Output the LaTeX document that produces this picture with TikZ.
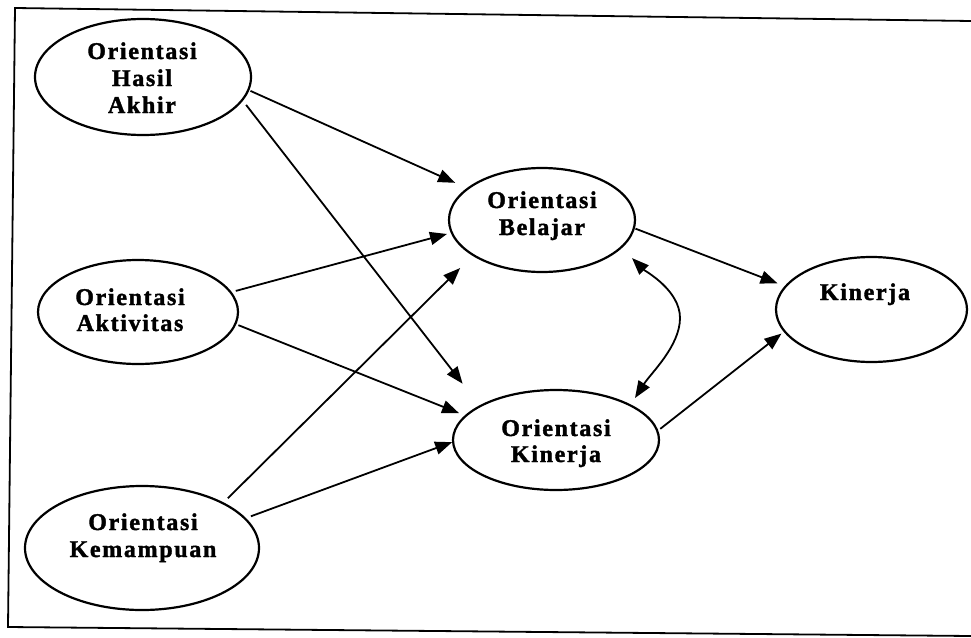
\documentclass[tikz,border=0pt]{standalone}
\usepackage{fontspec}
\usetikzlibrary{arrows.meta,shapes.geometric}
\newfontfamily\lblfont{Liberation Serif}[LetterSpace=7,BoldFeatures={FakeBold=1.6}]
\begin{document}
\begin{tikzpicture}[x=1pt,y=-1pt,
  oval/.style={draw, ellipse, line width=2.2pt, inner sep=0pt, outer sep=0pt},
  lbl/.style={font=\lblfont\bfseries\fontsize{24}{27}\selectfont, anchor=base, inner sep=0pt},
  link/.style={line width=1.8pt, -{Triangle[length=17pt,width=13pt]}},
  twoway/.style={line width=1.8pt, {Triangle[length=17pt,width=13pt]}-{Triangle[length=17pt,width=13pt]}},
  frameline/.style={line width=1.8pt}]
\useasboundingbox (0,0) rectangle (971,637);

% outer frame
\draw[frameline] (971,21) -- (15,8) -- (8,627) -- (971,636);

% constructs
\node[oval, minimum width=216pt, minimum height=116pt] (ha) at (143,77) {};
\node[oval, minimum width=200pt, minimum height=104pt] (ak) at (138,312) {};
\node[oval, minimum width=234pt, minimum height=124pt] (km) at (142,548) {};
\node[oval, minimum width=186pt, minimum height=104pt] (bl) at (542,220) {};
\node[oval, minimum width=206pt, minimum height=100pt] (ok) at (556,440) {};
\node[oval, minimum width=191pt, minimum height=105pt] (kn) at (871.5,309.5) {};

% labels
\node[lbl] (ha1) at (142,59) {Orientasi};
\node[lbl] (ha2) at (142,86) {Hasil};
\node[lbl] (ha3) at (142,113) {Akhir};
\node[lbl] (ak1) at (130,305) {Orientasi};
\node[lbl] (ak2) at (130,331) {Aktivitas};
\node[lbl] (km1) at (143,530) {Orientasi};
\node[lbl] (km2) at (143,557) {Kemampuan};
\node[lbl] (bl1) at (542,208) {Orientasi};
\node[lbl] (bl2) at (542,235) {Belajar};
\node[lbl] (ok1) at (556,436) {Orientasi};
\node[lbl] (ok2) at (556,462) {Kinerja};
\node[lbl] (kn1) at (865,300) {Kinerja};

% paths
\draw[link, shorten <=2.4pt, shorten >=14pt]  (ha.-7.6)  -- (bl.157.1);
\draw[link, shorten <=6.3pt, shorten >=28.5pt] (ha.-13.1) -- (ok.156.4);
\draw[link, shorten <=5.4pt, shorten >=5pt]    (ak.12.6)  -- (bl.-172);
\draw[link, shorten <=3.3pt, shorten >=7.3pt]  (ak.-7.5)  -- (ok.165.7);
\draw[link, shorten <=7pt,   shorten >=18.5pt] (km.29.9)  -- (bl.-153);
\draw[link, shorten <=6.4pt, shorten >=1pt]    (km.16.8)  -- (ok.181);
\draw[link, shorten <=1.7pt, shorten >=8.7pt]  (bl.-5.9)  -- (kn.165.5);
\draw[link, shorten <=3.7pt, shorten >=3.9pt]  (ok.5.5)   -- (kn.-166.4);
\coordinate (bend) at (680,318);
\draw[twoway, shorten <=15.3pt, shorten >=8.7pt]
  (bl.-19) .. controls (645,271) and (680,290) .. (bend)
  .. controls (680,346) and (651,373) .. (ok.25);
\end{tikzpicture}
\end{document}
